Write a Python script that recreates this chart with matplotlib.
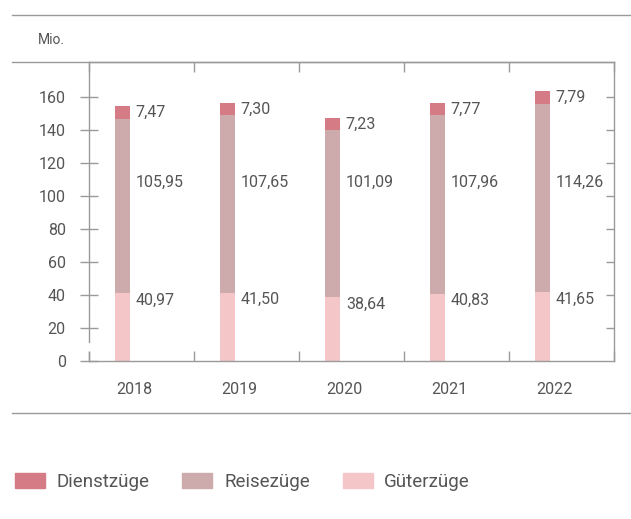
import numpy as np
import matplotlib.pyplot as plt
from matplotlib.patches import Patch

plt.rcParams['font.family'] = ['Roboto', 'DejaVu Sans']

# Data (Mio. Zugkilometer)
years = ['2018', '2019', '2020', '2021', '2022']
gueter = [40.97, 41.50, 38.64, 40.83, 41.65]
reise = [105.95, 107.65, 101.09, 107.96, 114.26]
dienst = [7.47, 7.30, 7.23, 7.77, 7.79]
yticks = [0, 20, 40, 60, 80, 100, 120, 140, 160]

def fmt(v):
    return f'{v:.2f}'.replace('.', ',')

c_dienst = '#d47b86'
c_reise = '#cdaaac'
c_gueter = '#f4c6c8'
txt = '#555555'
line = '#9a9a9a'
fs = 11.5

fig = plt.figure(figsize=(6.31, 5.19), dpi=100)
ax = fig.add_axes([89/631, 1-361/519, (614-89)/631, (361-62)/519])

x = np.arange(len(years))
off = -0.181
w = 0.143
g = np.array(gueter)
r = np.array(reise)
d = np.array(dienst)
ax.bar(x+off, g, w, color=c_gueter, zorder=2)
ax.bar(x+off, r, w, bottom=g, color=c_reise, zorder=2)
ax.bar(x+off, d, w, bottom=g+r, color=c_dienst, zorder=2)

# value labels right of the bars
lx = x + off + w/2 + 0.055
for i in range(len(years)):
    ax.text(lx[i], g[i]+r[i]+d[i]/2, fmt(d[i]), ha='left', va='center', fontsize=fs, color=txt)
    ax.text(lx[i], 108, fmt(r[i]), ha='left', va='center', fontsize=fs, color=txt)
    ax.text(lx[i], g[i]+0.5, fmt(g[i]), ha='left', va='top', fontsize=fs, color=txt)

ax.set_xlim(-0.5, 4.5)
ax.set_ylim(0, 181.2)

# axes frame
for s in ['left', 'right', 'bottom', 'top']:
    ax.spines[s].set_color(line)
    ax.spines[s].set_linewidth(1.0)
ax.spines['left'].set_bounds(11.5, 181.2)
ax.plot([-0.5, -0.5], [0, 5.5], color=line, lw=1.0, clip_on=False, zorder=3)

ax.set_yticks(yticks)
ax.set_yticklabels([str(v) for v in yticks], fontsize=fs, color=txt)
ax.tick_params(axis='y', direction='inout', length=13.5, width=1.0, color=line, pad=10)
ax.yaxis.get_major_ticks()[0].tick1line.set_visible(False)

ax.set_xticks(x - 0.067)
ax.set_xticklabels(years, fontsize=fs, color=txt)
ax.tick_params(axis='x', which='major', length=0, pad=15)
ax.set_xticks(np.arange(-0.5, 4.6, 1), minor=True)
ax.tick_params(axis='x', which='minor', direction='in', length=7, width=1.0,
               color=line, top=True, bottom=True)

# right-side ticks pointing inward
ax2 = ax.twinx()
ax2.set_ylim(ax.get_ylim())
ax2.set_yticks(yticks[1:])
ax2.set_yticklabels([])
ax2.tick_params(axis='y', direction='in', length=6, width=1.0, color=line)
for s in ax2.spines.values():
    s.set_visible(False)

fig.text(38/631, 1-40/519, 'Mio.', fontsize=10, color=txt, va='center', ha='left')

# separator lines
fig.add_artist(plt.Line2D([12/631, 630/631], [1-15/519]*2, color=line, lw=1.0))
fig.add_artist(plt.Line2D([12/631, 614/631], [1-62/519]*2, color=line, lw=1.0))
fig.add_artist(plt.Line2D([12/631, 630/631], [1-413/519]*2, color=line, lw=1.0))

handles = [Patch(color=c_dienst, label='Dienstzüge'),
           Patch(color=c_reise, label='Reisezüge'),
           Patch(color=c_gueter, label='Güterzüge')]
leg = fig.legend(handles=handles, loc='center left', bbox_to_anchor=(15/631, 1-482/519),
                 ncol=3, frameon=False, fontsize=13.5, handlelength=1.6, handleheight=0.9,
                 handletextpad=0.62, columnspacing=1.75, borderaxespad=0, borderpad=0)
for t in leg.get_texts():
    t.set_color(txt)

fig.savefig('out.png', dpi=100)
